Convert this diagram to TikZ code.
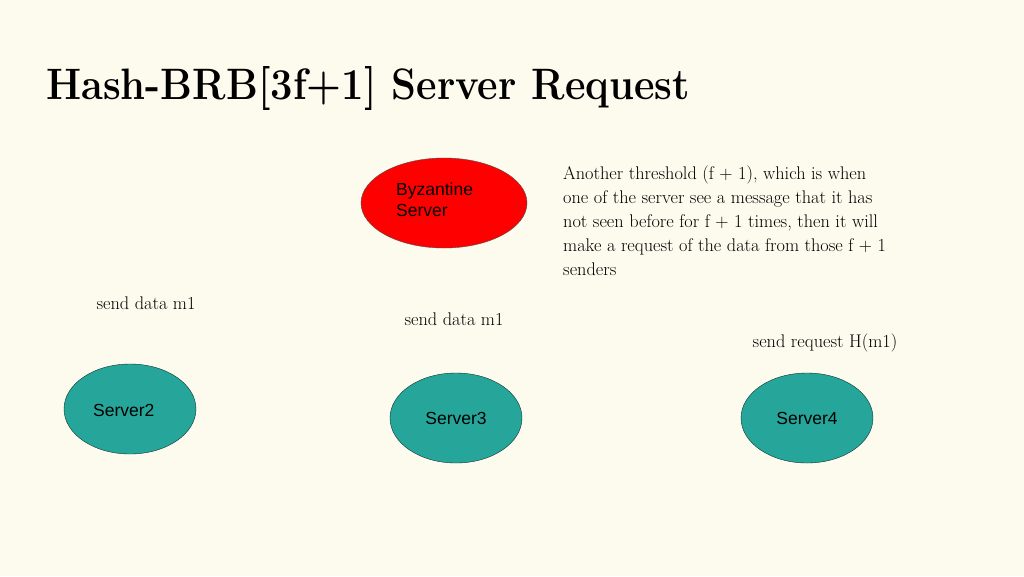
\documentclass[tikz,border=0pt]{standalone}
\usepackage{fontspec}
\setsansfont{Liberation Sans}
\usetikzlibrary{shapes.geometric}
\definecolor{bg}{HTML}{FDFAEE}
\definecolor{teal}{HTML}{26A69A}
\definecolor{byz}{HTML}{FF0000}
\tikzset{x=1pt,y=-1pt,
  srv/.style={ellipse,draw=black!70!teal,fill=teal,minimum width=132pt,minimum height=90pt,font=\sffamily\fontsize{17.5}{20}\selectfont,inner sep=0pt},
  lbl/.style={font=\fontsize{18.3}{20}\selectfont,inner sep=0pt}}
\begin{document}
\begin{tikzpicture}
\fill[bg] (0,0) rectangle (1024,576);
\useasboundingbox (0,0) rectangle (1024,576);
\node[anchor=west,font=\bfseries\fontsize{44}{48}\selectfont,inner sep=0pt,xscale=0.907] (title) at (46,88) {Hash-BRB[3f+1] Server Request};
\node[ellipse,draw=black!70,fill=byz,minimum width=166pt,minimum height=90pt,inner sep=0pt] (byz) at (444,203) {};
\node[anchor=north west,align=left,font=\sffamily\fontsize{17.5}{21}\selectfont,inner sep=0pt] (byzt) at (396,183) {Byzantine\\Server};
\node[srv] (s2) at (130,409) {};
\node[anchor=west,font=\sffamily\fontsize{17.5}{20}\selectfont,inner sep=0pt] (s2t) at (93,410) {Server2};
\node[srv] (s3) at (456,418) {Server3};
\node[srv] (s4) at (807,418) {Server4};
\node[lbl] (m1) at (146,303) {send data m1};
\node[lbl] (m2) at (454,319) {send data m1};
\node[lbl] (m3) at (825,343) {send request H(m1)};
\node[anchor=north west,align=left,font=\fontsize{18.3}{24}\selectfont,inner sep=0pt] (para) at (563,166) {Another threshold (f + 1), which is when\\one of the server see a message that it has\\not seen before for f + 1 times, then it will\\make a request of the data from those f + 1\\senders};
\end{tikzpicture}
\end{document}
